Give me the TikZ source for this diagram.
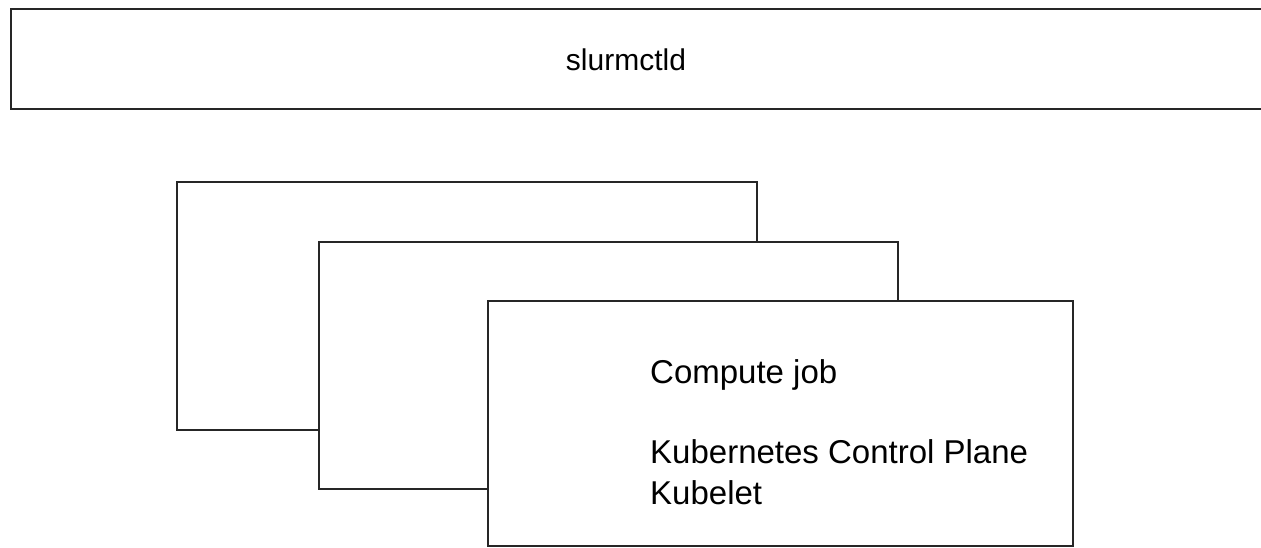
\documentclass[tikz,border=0pt]{standalone}
\usepackage{fontspec}
\setmainfont{Liberation Sans}
\begin{document}
\begin{tikzpicture}[x=1pt,y=-1pt,
  sheet/.style={draw=black!85,line width=2pt,fill=white,inner sep=0pt,anchor=north west},
  label/.style={anchor=base west,inner sep=0pt,font=\fontsize{33}{40}\selectfont},
]
\useasboundingbox (0,0) rectangle (1261,547);
\fill[white] (0,0) rectangle (1261,547);
% top bar
\node[sheet,line width=2.4pt,minimum width=1262pt,minimum height=100pt] (ctl) at (10,8) {};
\node[font=\fontsize{30}{36}\selectfont,inner sep=0pt] (ctltxt) at (626,60) {slurmctld};
% stacked sheets
\node[sheet,minimum width=580pt,minimum height=248pt] (s1) at (176,181) {};
\node[sheet,minimum width=579pt,minimum height=247pt] (s2) at (318,241) {};
\node[sheet,minimum width=585pt,minimum height=245pt] (s3) at (487,300) {};
\node[label] (job) at (650,383) {Compute job};
\node[label] (kcp) at (650,463) {Kubernetes Control Plane};
\node[label] (kub) at (650,504) {Kubelet};
\end{tikzpicture}
\end{document}
